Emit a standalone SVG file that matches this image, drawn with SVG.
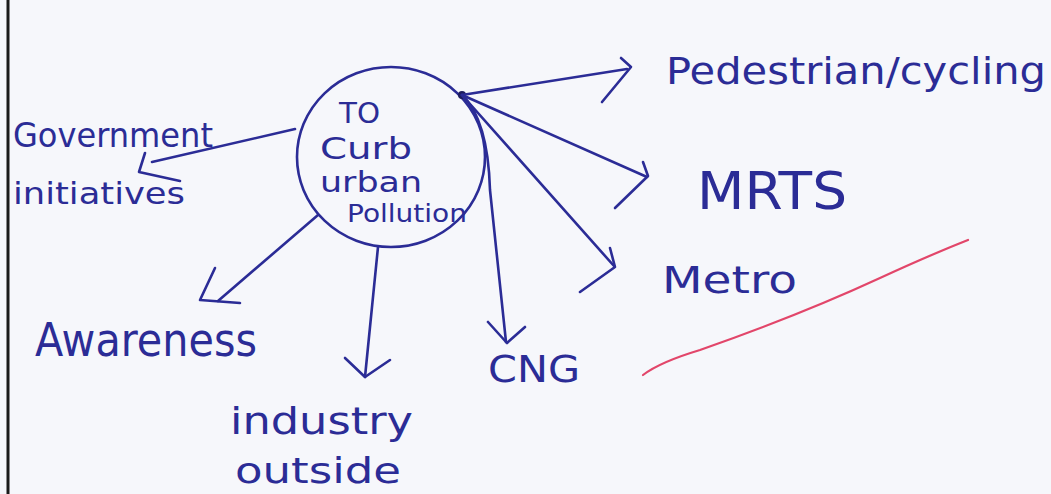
<svg xmlns="http://www.w3.org/2000/svg" width="1051" height="494" viewBox="0 0 1051 494">
<style>
.ink{fill:none;stroke:#2b2c96;stroke-width:2.6;stroke-linecap:round;stroke-linejoin:round}
.t{fill:#2b2c96;font-family:"DejaVu Sans","Liberation Sans",sans-serif}
</style>
<rect width="1051" height="494" fill="#f6f7fb"/>
<line x1="8" y1="0" x2="8" y2="494" stroke="#1a1a1a" stroke-width="3"/>
<g id="center">
<ellipse class="ink" cx="391" cy="157" rx="94" ry="90"/>
<text class="t" x="339" y="123" font-size="28" textLength="41" lengthAdjust="spacingAndGlyphs">TO</text>
<text class="t" x="320" y="159" font-size="30" textLength="92" lengthAdjust="spacingAndGlyphs">Curb</text>
<text class="t" x="320" y="192" font-size="28" textLength="102" lengthAdjust="spacingAndGlyphs">urban</text>
<text class="t" x="347" y="222" font-size="24" textLength="120" lengthAdjust="spacingAndGlyphs">Pollution</text>
<circle cx="462" cy="95" r="4" fill="#1d1d5e"/>
</g>
<g id="connectors">
<path class="ink" d="M295,129 L152,162"/>
<path class="ink" d="M145,153 L139,172 L180,181"/>
<path class="ink" d="M462,95 L627,69"/>
<path class="ink" d="M621,58 L631,67 L602,102"/>
<path class="ink" d="M462,95 L647,177"/>
<path class="ink" d="M643,162 L648,176 L615,208"/>
<path class="ink" d="M462,95 Q488,120 490,190 L506,342"/>
<path class="ink" d="M488,322 L507,343 L525,327"/>
<path class="ink" d="M462,95 L614,266"/>
<path class="ink" d="M610,248 L615,267 L580,292"/>
<path class="ink" d="M318,215 L218,301"/>
<path class="ink" d="M215,268 L200,300 L240,303"/>
<path class="ink" d="M378,247 L365,377"/>
<path class="ink" d="M345,358 L365,377 L390,360"/>
</g>
<g id="government">
<text class="t" x="13" y="147" font-size="34" textLength="200" lengthAdjust="spacingAndGlyphs">Government</text>
<text class="t" x="13" y="204" font-size="30" textLength="172" lengthAdjust="spacingAndGlyphs">initiatives</text>
</g>
<g id="pedestrian">
<text class="t" x="666" y="84" font-size="38" textLength="380" lengthAdjust="spacingAndGlyphs">Pedestrian/cycling</text>
</g>
<g id="mrts">
<text class="t" x="697" y="209" font-size="52" textLength="150" lengthAdjust="spacingAndGlyphs">MRTS</text>
</g>
<g id="metro">
<text class="t" x="662" y="293" font-size="38" textLength="135" lengthAdjust="spacingAndGlyphs">Metro</text>
</g>
<g id="cng">
<text class="t" x="488" y="382" font-size="38" textLength="92" lengthAdjust="spacingAndGlyphs">CNG</text>
</g>
<g id="industry">
<text class="t" x="230" y="434" font-size="38" textLength="183" lengthAdjust="spacingAndGlyphs">industry</text>
<text class="t" x="235" y="483" font-size="36" textLength="166" lengthAdjust="spacingAndGlyphs">outside</text>
</g>
<g id="awareness">
<text class="t" x="35" y="356" font-size="46" textLength="222" lengthAdjust="spacingAndGlyphs">Awareness</text>
</g>
<path d="M643,375 Q660,362 700,350 Q800,315 880,278 Q930,255 968,240" fill="none" stroke="#e2466a" stroke-width="2.2" stroke-linecap="round"/>
</svg>
